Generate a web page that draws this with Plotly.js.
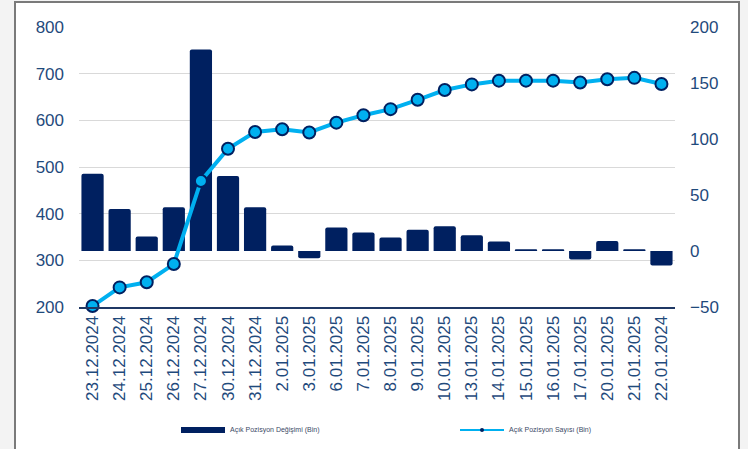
<!DOCTYPE html>
<html>
<head>
<meta charset="utf-8">
<script src="https://cdn.plot.ly/plotly-3.0.1.min.js"></script>
<style>
  html, body { margin: 0; padding: 0; background: #f3f3f3; width: 748px; height: 449px; overflow: hidden; }
  #frame { position: absolute; left: 14px; top: 1px; width: 722px; height: 460px; border: 2px solid #7a7a7a; border-bottom: none; background: #ffffff; }
  #chart { width: 722px; height: 446px; }
</style>
</head>
<body>
<div id="frame"><div id="chart"></div></div>
<script>
const categories = ['23.12.2024','24.12.2024','25.12.2024','26.12.2024','27.12.2024','30.12.2024','31.12.2024','2.01.2025','3.01.2025','6.01.2025','7.01.2025','8.01.2025','9.01.2025','10.01.2025','13.01.2025','14.01.2025','15.01.2025','16.01.2025','17.01.2025','20.01.2025','21.01.2025','22.01.2024'];
const positionCount = [202,242,253,292,470,539,575,581,574,595,611,624,644,665,677,685,685,685,681,688,691,678];
const positionChange = [69,37.5,13,39,180,67,39,5,-6.5,21,16.5,12,19,22,14,8.5,1.5,1.5,-7.5,9,1.5,-13];
const barName = 'Açık Pozisyon Değişimi (Bin)';
const lineName = 'Açık Pozisyon Sayısı (Bin)';

const W = 722, H = 446, M = {l: 63, r: 63, t: 24, b: 142};
const pw = W - M.l - M.r, ph = H - M.t - M.b;
const px = x => (x - M.l) / pw;
const py = y => (H - M.b - y) / ph;

const navy = '#002060', cyan = '#00B0F0', txt = '#1F4A7C';
const font = 'Liberation Sans, Arial, sans-serif';

const traces = [
  {type: 'bar', x: categories, y: positionChange, name: barName, yaxis: 'y',
   marker: {color: navy, cornerradius: 2}, showlegend: false},
  {type: 'scatter', mode: 'lines+markers', x: categories, y: positionCount, name: lineName, yaxis: 'y2',
   line: {color: cyan, width: 4}, marker: {color: cyan, size: 12, line: {color: navy, width: 2}},
   cliponaxis: false, showlegend: false}
];

const legY = 427;
const layout = {
  width: W, height: H, margin: M,
  paper_bgcolor: '#ffffff', plot_bgcolor: '#ffffff',
  font: {family: font, color: txt, size: 17},
  bargap: 0.18,
  showlegend: false,
  xaxis: {type: 'category', range: [-0.5, categories.length - 0.5], tickangle: -90, showgrid: false,
          showline: true, linecolor: '#1F3864', linewidth: 2,
          ticks: '', tickfont: {size: 17, color: txt}, automargin: false, fixedrange: true},
  yaxis: {side: 'right', range: [-50, 200], dtick: 50, showgrid: false, zeroline: false, ticks: '',
          ticklabelstandoff: 14, automargin: false, tickfont: {size: 17, color: txt}},
  yaxis2: {side: 'left', overlaying: 'y', range: [200, 800], dtick: 100, showgrid: true, gridcolor: '#d9d9d9',
           gridwidth: 1, zeroline: false, ticks: '', ticklabelstandoff: 14, automargin: false,
           tickfont: {size: 17, color: txt}},
  shapes: [
    {type: 'rect', xref: 'paper', yref: 'paper', x0: px(165), x1: px(209), y0: py(legY - 3), y1: py(legY + 3),
     fillcolor: navy, line: {width: 0}},
    {type: 'line', xref: 'paper', yref: 'paper', x0: px(444), x1: px(488), y0: py(legY), y1: py(legY),
     line: {color: cyan, width: 2}},
    {type: 'circle', xref: 'paper', yref: 'paper', x0: px(464), x1: px(468), y0: py(legY - 2), y1: py(legY + 2),
     fillcolor: navy, line: {width: 0}}
  ],
  annotations: [
    {xref: 'paper', yref: 'paper', x: px(212), y: py(legY), xanchor: 'left', yanchor: 'middle', showarrow: false,
     text: barName, font: {size: 7, color: '#3b4a66'}},
    {xref: 'paper', yref: 'paper', x: px(491), y: py(legY), xanchor: 'left', yanchor: 'middle', showarrow: false,
     text: lineName, font: {size: 7, color: '#3b4a66'}}
  ]
};

Plotly.newPlot('chart', traces, layout, {displayModeBar: false, staticPlot: true});
</script>
</body>
</html>
